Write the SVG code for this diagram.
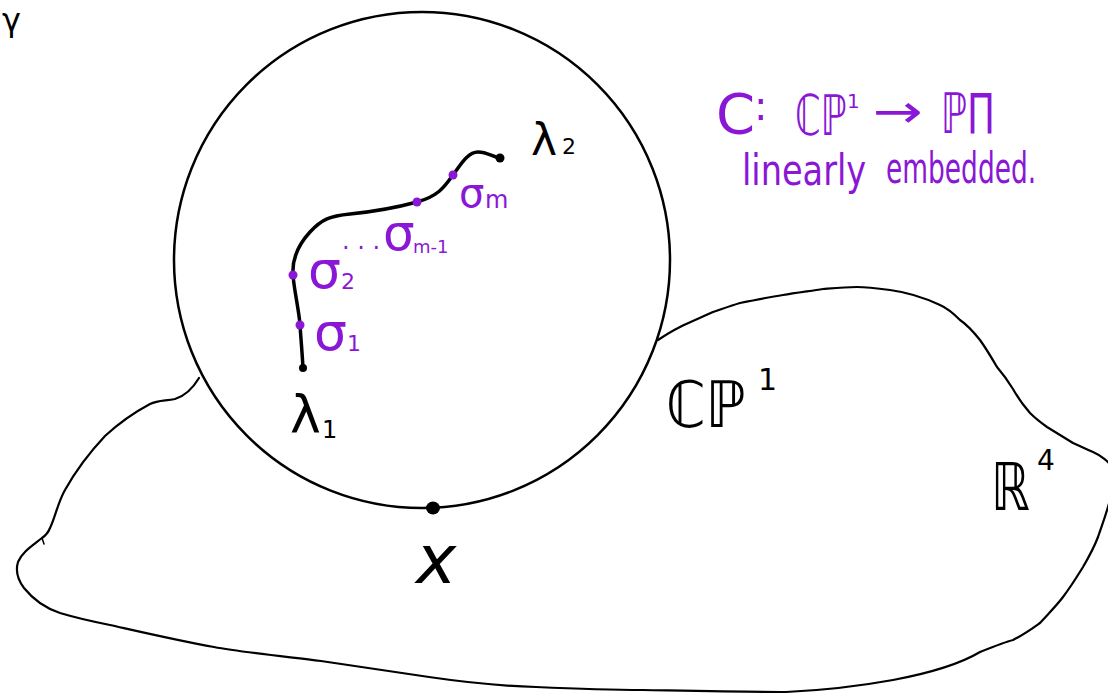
<svg xmlns="http://www.w3.org/2000/svg" width="1108" height="694" viewBox="0 0 1108 694">
<style>
.ink{fill:none;stroke:#000;stroke-linecap:round;stroke-linejoin:round}
.blk{fill:#000;font-family:"DejaVu Sans",sans-serif}
.pur{fill:#8A17D6;font-family:"DejaVu Sans",sans-serif}
.pdot{fill:#8A17D6}
</style>
<rect width="1108" height="694" fill="#fff"/>
<g id="r4-blob">
<path class="ink" stroke-width="2.2" d="M199,378 C193,388 185,396 175,399 C165,401 158,400 150,404 C135,412 118,424 105,436 C90,452 75,472 65,490 C58,502 55,518 50,528 C48,533 45,536 42,538 C32,546 22,552 18,562 C15,572 18,580 24,588 C32,598 45,608 60,613 C80,619 95,622 110,625 C150,634 180,641 214,647 C240,652 280,656 321,661 C350,665 400,673 429,677 C470,683 500,686 536,687 C580,689 610,690 643,690 C700,691 750,692 786,692 C830,690 860,686 893,680 C930,673 960,664 980,652 C995,646 1005,642 1013,640 C1025,634 1033,628 1040,623 C1050,612 1057,605 1063,597 C1072,585 1078,575 1083,567 C1090,555 1095,545 1098,537 C1102,525 1106,515 1110,500 L1114,470 C1110,462 1100,455 1093,452 C1085,449 1080,446 1073,443 C1065,438 1055,432 1047,427 C1040,422 1035,418 1030,413 C1023,405 1018,398 1013,389 C1008,381 1003,374 997,367 C990,355 985,347 980,340 C972,330 966,324 960,320 C953,313 947,308 940,305 C925,298 905,292 890,290 C875,288 865,287 857,287 C845,287 835,288 823,289 C810,291 795,293 783,295 C770,297 755,300 740,303 C730,306 722,309 713,312 C700,318 690,322 680,327 C672,331 664,336 658,340"/>
<path class="ink" stroke-width="1.5" d="M42,538 L44,544"/>
</g>
<g id="cp1-sphere">
<circle class="ink" stroke-width="2.5" cx="422" cy="260" r="248"/>
</g>
<g id="connectors">
<path class="ink" stroke-width="3.5" d="M303,368 C302,350 301,340 300,325 S294,290 293,275 S298,245 310,232 S330,216 350,214 S395,208 417,202 S445,186 453,175 S468,152 478,152 S492,157 500,158"/>
</g>
<g id="point-lambda1">
<circle cx="303" cy="368" r="4" fill="#000"/>
<text class="blk" x="290" y="432" font-size="52">λ</text>
<text class="blk" x="322" y="438" font-size="24">1</text>
</g>
<g id="point-lambda2">
<circle cx="500" cy="158" r="4.5" fill="#000"/>
<text class="blk" x="531" y="155" font-size="44">λ</text>
<text class="blk" x="562" y="154" font-size="22">2</text>
</g>
<g id="sigma-1">
<circle class="pdot" cx="300" cy="325" r="4.5"/>
<text class="pur" x="314" y="350" font-size="52">σ</text>
<text class="pur" x="347" y="351" font-size="22">1</text>
</g>
<g id="sigma-2">
<circle class="pdot" cx="293" cy="275" r="4.5"/>
<text class="pur" x="308" y="288" font-size="52">σ</text>
<text class="pur" x="341" y="289" font-size="22">2</text>
</g>
<g id="sigma-dots">
<text class="pur" x="342" y="256" font-size="24">· · ·</text>
</g>
<g id="sigma-m-1">
<circle class="pdot" cx="417" cy="202" r="4.5"/>
<text class="pur" x="383" y="250" font-size="50">σ</text>
<text class="pur" x="413" y="253" font-size="18">m-1</text>
</g>
<g id="sigma-m">
<circle class="pdot" cx="453" cy="175" r="4.5"/>
<text class="pur" x="459" y="207" font-size="40">σ</text>
<text class="pur" x="485" y="208" font-size="24">m</text>
</g>
<g id="point-x">
<ellipse cx="433" cy="508" rx="7" ry="6.5" fill="#000"/>
<text class="blk" x="416" y="583" font-size="68" font-style="italic">x</text>
</g>
<g id="label-cp1">
<text class="blk" transform="translate(666,427) scale(0.89,1)" font-size="64">ℂℙ</text>
<text class="blk" x="758" y="390" font-size="30">1</text>
</g>
<g id="label-r4">
<text class="blk" transform="translate(991,510) scale(0.74,1)" font-size="66">ℝ</text>
<text class="blk" x="1037" y="470" font-size="28">4</text>
</g>
<g id="label-gamma">
<text class="blk" x="2" y="31" font-size="32">γ</text>
</g>
<g id="note-map">
<text class="pur" x="716" y="133" font-size="56">C</text>
<text class="pur" x="754" y="120" font-size="40">:</text>
<text class="pur" transform="translate(795,135) scale(0.66,1)" font-size="56">ℂℙ</text>
<text class="pur" x="847" y="108" font-size="20">1</text>
<text class="pur" x="873" y="127" font-size="46" textLength="50" lengthAdjust="spacingAndGlyphs">→</text>
<text class="pur" x="941" y="133" font-size="56" textLength="54" lengthAdjust="spacingAndGlyphs">ℙΠ</text>
<text class="pur" transform="translate(742,185) scale(0.8,1)" font-size="42">linearly</text>
<text class="pur" transform="translate(886,183) scale(0.63,1)" font-size="42">embedded.</text>
</g>
</svg>
